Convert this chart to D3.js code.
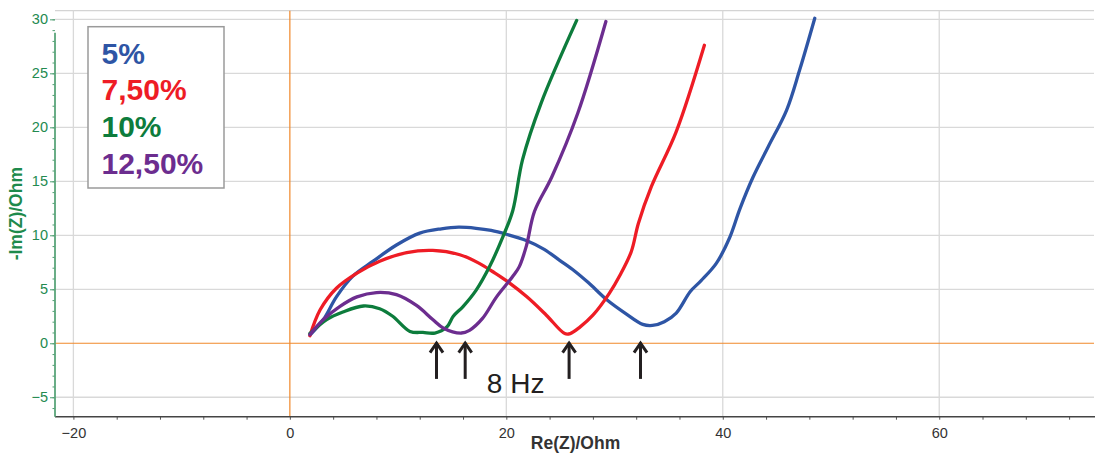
<!DOCTYPE html>
<html>
<head>
<meta charset="utf-8">
<script src="https://cdn.jsdelivr.net/npm/d3@7"></script>
<style>
  html, body { margin: 0; padding: 0; background: #fff; }
  svg { display: block; font-family: "Liberation Sans", Arial, sans-serif; }
  svg text { font-family: "Liberation Sans", Arial, sans-serif; }
</style>
</head>
<body>
<svg id="chart" width="1095" height="460"></svg>
<script>
// ---- data ----
const seriesNames = ["5%", "7,50%", "10%", "12,50%"];

const blueX = [1.9, 3.1, 4.3, 5.8, 7.7, 9.85, 12.0, 14.0, 15.6, 17.2, 18.6, 20.0, 21.9, 23.5, 24.9, 26.3, 27.6, 29.2, 31.1, 32.6, 33.5, 34.6, 35.7, 37.0, 38.0, 39.4, 40.6, 41.6, 42.8, 44.2, 45.9, 47.1, 48.5];
const blueY = [0.8, 2.2, 4.3, 6.2, 7.6, 9.1, 10.2, 10.6, 10.75, 10.65, 10.45, 10.1, 9.5, 8.7, 7.7, 6.7, 5.6, 4.1, 2.7, 1.75, 1.65, 2.0, 2.8, 4.8, 5.8, 7.4, 9.7, 12.5, 15.4, 18.2, 21.6, 25.3, 30.1];

const redX = [1.85, 2.8, 4.3, 6.2, 8.3, 10.8, 13.2, 15.7, 17.5, 18.8, 20.0, 21.9, 23.7, 25.4, 25.9, 26.8, 28.0, 29.5, 30.5, 31.55, 32.2, 33.4, 35.7, 38.3];
const redY = [0.7, 3.1, 5.1, 6.5, 7.6, 8.4, 8.6, 8.2, 7.4, 6.6, 5.8, 4.3, 2.6, 0.9, 0.9, 1.5, 2.6, 4.6, 6.3, 8.5, 11.1, 14.5, 19.6, 27.6];

const greenX = [1.85, 3.4, 4.9, 6.8, 8.3, 9.5, 11.1, 12.3, 13.4, 14.5, 15.1, 16.0, 17.2, 18.5, 19.7, 20.6, 21.5, 23.2, 26.5];
const greenY = [0.9, 2.2, 2.9, 3.45, 3.2, 2.5, 1.1, 1.0, 0.95, 1.5, 2.5, 3.4, 4.9, 7.2, 9.9, 12.3, 17.0, 22.2, 29.9];

const purpleX = [1.85, 3.1, 4.6, 6.2, 8.0, 9.85, 11.7, 13.2, 14.2, 15.85, 16.6, 17.8, 19.1, 20.6, 21.2, 21.85, 22.6, 24.2, 26.6, 29.2];
const purpleY = [0.8, 2.2, 3.4, 4.3, 4.7, 4.5, 3.5, 2.2, 1.4, 0.95, 1.2, 2.3, 4.3, 6.2, 7.1, 9.0, 12.2, 15.4, 21.3, 29.8];

const xTicks = [-20, 0, 20, 40, 60];
const yTicks = [-5, 0, 5, 10, 15, 20, 25, 30];
const arrowX = [13.55, 16.2, 25.8, 32.4];
const annotationText = "8 Hz";
const xLabel = "Re(Z)/Ohm";
const yLabel = "-Im(Z)/Ohm";

// ---- layout ----
const FONT = "'Liberation Sans', Arial, sans-serif";
const colors = ["#2e55a5", "#ee1c25", "#0d7c3c", "#6c2d8f"];
const pLeft = 55, pRight = 1094, pTop = 10.7, pBottom = 416.7;

const svg = d3.select("#chart");
const x = d3.scaleLinear().domain([-21.7, 74.3]).range([pLeft, pRight]);
const y = d3.scaleLinear().domain([-6.8, 30.8]).range([pBottom, pTop]);

// top border
svg.append("line").attr("x1", pLeft).attr("x2", pRight).attr("y1", pTop).attr("y2", pTop)
  .attr("stroke", "#d4d4d4").attr("stroke-width", 1.3);

// grid lines
svg.append("g").selectAll("line").data(yTicks.filter(d => d !== 0)).join("line")
  .attr("x1", pLeft).attr("x2", pRight).attr("y1", d => y(d)).attr("y2", d => y(d))
  .attr("stroke", "#d9d9d9").attr("stroke-width", 1.3);
svg.append("g").selectAll("line").data(xTicks.filter(d => d !== 0)).join("line")
  .attr("y1", pTop).attr("y2", pBottom).attr("x1", d => x(d)).attr("x2", d => x(d))
  .attr("stroke", "#d9d9d9").attr("stroke-width", 1.3);
// zero lines (orange)
svg.append("line").attr("x1", pLeft).attr("x2", pRight).attr("y1", y(0)).attr("y2", y(0))
  .attr("stroke", "#f0882a").attr("stroke-width", 1.2);
svg.append("line").attr("y1", pTop).attr("y2", pBottom).attr("x1", x(0)).attr("x2", x(0))
  .attr("stroke", "#f0882a").attr("stroke-width", 1.2);

// x axis
const xAxisG = svg.append("g").attr("transform", `translate(0,${pBottom})`);
xAxisG.call(d3.axisBottom(x).tickValues(d3.range(-20, 74, 4)).tickSize(3).tickFormat(""))
  .call(g => g.select(".domain").remove())
  .call(g => g.selectAll("line").attr("stroke", "#555").attr("stroke-width", 1));
xAxisG.append("g").call(d3.axisBottom(x).tickValues(xTicks).tickSize(0).tickPadding(11))
  .call(g => g.select(".domain").remove())
  .call(g => g.attr("font-family", FONT))
  .call(g => g.selectAll("text").attr("font-size", 14.5).attr("fill", "#333"));
svg.append("line").attr("x1", pLeft).attr("x2", pRight + 1).attr("y1", pBottom).attr("y2", pBottom)
  .attr("stroke", "#444").attr("stroke-width", 1.6);

// y axis
const yAxisG = svg.append("g").attr("transform", `translate(${pLeft},0)`);
yAxisG.call(d3.axisLeft(y).tickValues(d3.range(-6, 31, 1)).tickSize(2.5).tickFormat(""))
  .call(g => g.select(".domain").remove())
  .call(g => g.selectAll("line").attr("stroke", "#4f9e72").attr("stroke-width", 1));
yAxisG.append("g").call(d3.axisLeft(y).tickValues(yTicks).tickSize(5).tickPadding(2))
  .call(g => g.select(".domain").remove())
  .call(g => g.attr("font-family", FONT))
  .call(g => g.selectAll("line").attr("stroke", "#4f9e72").attr("stroke-width", 1))
  .call(g => g.selectAll("text").attr("font-size", 14.5).attr("fill", "#238a50"));
svg.append("line").attr("x1", pLeft).attr("x2", pLeft).attr("y1", pTop + 22).attr("y2", pBottom)
  .attr("stroke", "#5aa57a").attr("stroke-width", 1.8);

// axis labels
svg.append("text").attr("x", (pLeft + pRight) / 2 + 1).attr("y", 449).attr("text-anchor", "middle")
  .attr("font-family", FONT).attr("font-size", 17.5).attr("font-weight", "bold").attr("fill", "#333")
  .text(xLabel);
svg.append("text").attr("transform", `translate(21.5,${(pTop + pBottom) / 2}) rotate(-90)`)
  .attr("text-anchor", "middle").attr("font-family", FONT).attr("font-size", 17.5).attr("font-weight", "bold")
  .attr("fill", "#1e8a4c").text(yLabel);

// curves
const series = [
  { xs: blueX, ys: blueY },
  { xs: redX, ys: redY },
  { xs: greenX, ys: greenY },
  { xs: purpleX, ys: purpleY }
];
const line = d3.line().x(d => x(d[0])).y(d => y(d[1])).curve(d3.curveCatmullRom.alpha(0.5));
const plotG = svg.append("g");
series.forEach((s, i) => {
  const pts = s.xs.map((v, k) => [v, s.ys[k]]);
  plotG.append("path").attr("d", line(pts)).attr("fill", "none")
    .attr("stroke", colors[i]).attr("stroke-width", 3.3).attr("stroke-linejoin", "round")
    .attr("stroke-linecap", "round");
});

// arrows
const arrowG = svg.append("g");
arrowX.forEach(v => {
  const cx = x(v), ty = y(0.15), by = y(-3.3);
  arrowG.append("line").attr("x1", cx).attr("x2", cx).attr("y1", ty + 1).attr("y2", by)
    .attr("stroke", "#231f20").attr("stroke-width", 3);
  arrowG.append("path").attr("d", `M${cx - 6.5},${ty + 11} L${cx},${ty + 1.5} L${cx + 6.5},${ty + 11}`)
    .attr("fill", "none").attr("stroke", "#231f20").attr("stroke-width", 3)
    .attr("stroke-linejoin", "miter");
});
svg.append("text").attr("x", x(18.2)).attr("y", y(-4.6)).attr("font-family", FONT).attr("font-size", 28)
  .attr("fill", "#231f20").text(annotationText);

// legend
svg.append("rect").attr("x", 88).attr("y", 26.7).attr("width", 136).attr("height", 161.3)
  .attr("fill", "#fff").attr("stroke", "#9a9a9a").attr("stroke-width", 1.5);
svg.append("g").selectAll("text").data(seriesNames).join("text")
  .attr("x", 101.5).attr("y", (d, i) => 63.5 + i * 36.7)
  .attr("font-family", FONT).attr("font-size", 30).attr("font-weight", "bold").attr("fill", (d, i) => colors[i])
  .text(d => d);
</script>
</body>
</html>
